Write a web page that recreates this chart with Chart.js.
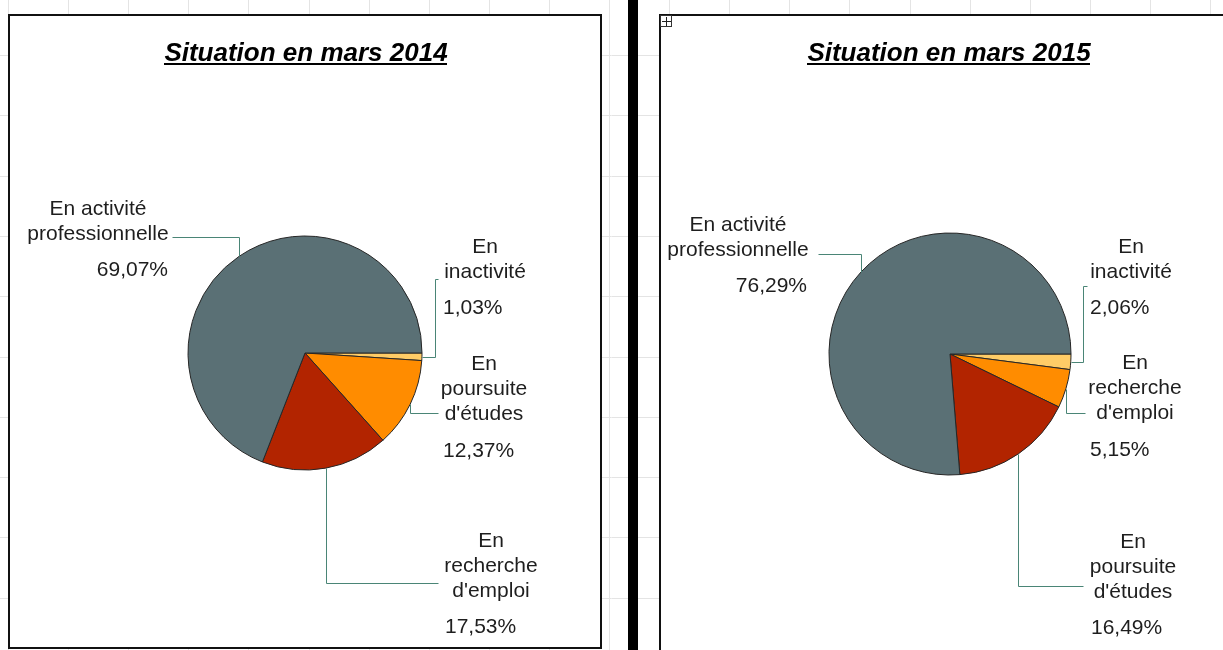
<!DOCTYPE html>
<html lang="fr">
<head>
<meta charset="utf-8">
<script src="https://cdn.jsdelivr.net/npm/chart.js@4.4.1/dist/chart.umd.min.js"></script>
<style>
  html, body { margin: 0; padding: 0; background: #fff; }
  body { width: 1223px; height: 650px; position: relative; overflow: hidden; }
  #grid { position: absolute; left: 0; top: 0; width: 1223px; height: 650px; }
  .box { position: absolute; background: #fff; box-sizing: border-box; border: 2px solid #111; }
  #box1 { left: 8px; top: 14px; width: 594px; height: 635px; }
  #box2 { left: 659px; top: 14px; width: 600px; height: 700px; }
  #bar { position: absolute; left: 628px; top: 0; width: 10px; height: 650px; background: #000; }
  #handle { position: absolute; left: 660px; top: 15px; width: 10px; height: 10px; border: 1px solid #333; background: #fff; }
  #handle:before { content: ""; position: absolute; left: 5px; top: 1px; width: 1px; height: 9px; background: #222; }
  #handle:after { content: ""; position: absolute; left: 1px; top: 5px; width: 9px; height: 1px; background: #222; }
  canvas { position: absolute; left: 0; top: 0; }
</style>
</head>
<body>
<canvas id="grid" width="1223" height="650"></canvas>
<div id="box1" class="box"></div>
<div id="bar"></div>
<div id="box2" class="box"></div>
<div id="handle"></div>
<canvas id="c2014" width="1223" height="650"></canvas>
<canvas id="c2015" width="1223" height="650"></canvas>
<script>
// ---------- DATA ----------
const title2014 = "Situation en mars 2014";
const categories2014 = ["En inactivité", "En poursuite d'études", "En recherche d'emploi", "En activité professionnelle"];
const values2014 = [1.03, 12.37, 17.53, 69.07];

const title2015 = "Situation en mars 2015";
const categories2015 = ["En inactivité", "En recherche d'emploi", "En poursuite d'études", "En activité professionnelle"];
const values2015 = [2.06, 5.15, 16.49, 76.29];

const sliceColors = ["#FFCC66", "#FF8C00", "#B22400", "#5A7075"];

// ---------- LAYOUT (positions / styles only) ----------
const FONT = '"Liberation Sans", Arial, sans-serif';
const LABEL_FONT = '21px ' + FONT;
const TITLE_FONT = 'italic bold 26px ' + FONT;
const TEXT_COLOR = '#1e1e1e';
const LEADER_COLOR = '#4a8576';

const layout2014 = {
  center: { x: 305, y: 353 }, radius: 117,
  title: { x: 306, y: 61 },
  labels: [
    { cx: 485, y0: 253, wrap: 100, valAlign: 'left', valX: 443, valGap: 36, route: [['h', 435], ['v', 279], ['h', 438]] },
    { cx: 484, y0: 370, wrap: 100, valAlign: 'left', valX: 443, valGap: 37, route: [['v', 413], ['h', 438]] },
    { cx: 491, y0: 547, wrap: 100, valAlign: 'left', valX: 445, valGap: 36, route: [['v', 583], ['h', 438]] },
    { cx: 98,  y0: 215, wrap: 150, valAlign: 'right', valX: 168, valGap: 36, route: [['v', 237], ['h', 172]] }
  ]
};
const layout2015 = {
  center: { x: 950, y: 354 }, radius: 121,
  title: { x: 949, y: 61 },
  labels: [
    { cx: 1131, y0: 253, wrap: 100, valAlign: 'left', valX: 1090, valGap: 36, route: [['h', 1083], ['v', 286], ['h', 1087]] },
    { cx: 1135, y0: 369, wrap: 100, valAlign: 'left', valX: 1090, valGap: 37, route: [['v', 413], ['h', 1085]] },
    { cx: 1133, y0: 548, wrap: 100, valAlign: 'left', valX: 1091, valGap: 36, route: [['v', 586], ['h', 1083]] },
    { cx: 738,  y0: 231, wrap: 150, valAlign: 'right', valX: 807, valGap: 36, route: [['v', 254], ['h', 818]] }
  ]
};

// ---------- background spreadsheet grid ----------
(function () {
  const g = document.getElementById('grid').getContext('2d');
  g.strokeStyle = '#e4e4e4';
  g.lineWidth = 1;
  for (let x = 8; x < 1223; x += 60.1) {
    g.beginPath(); g.moveTo(Math.round(x) + 0.5, 0); g.lineTo(Math.round(x) + 0.5, 650); g.stroke();
  }
  for (let y = 55; y < 650; y += 60.3) {
    g.beginPath(); g.moveTo(0, Math.round(y) + 0.5); g.lineTo(1223, Math.round(y) + 0.5); g.stroke();
  }
})();

function fmt(v) { return v.toFixed(2).replace('.', ',') + '%'; }

function wrapText(ctx, text, maxW) {
  const words = text.split(' ');
  const lines = [];
  let cur = '';
  for (const w of words) {
    const test = cur ? cur + ' ' + w : w;
    if (cur && ctx.measureText(test).width > maxW) { lines.push(cur); cur = w; }
    else cur = test;
  }
  if (cur) lines.push(cur);
  return lines;
}

const labelPlugin = {
  id: 'pieLabels',
  afterDraw(chart, args, opts) {
    const ctx = chart.ctx;
    const meta = chart.getDatasetMeta(0);
    const cats = chart.data.labels;
    const vals = chart.data.datasets[0].data;
    const L = opts.layout;
    ctx.save();
    // title
    ctx.font = TITLE_FONT;
    ctx.fillStyle = '#000';
    ctx.textAlign = 'center';
    ctx.textBaseline = 'alphabetic';
    ctx.fillText(opts.title, L.title.x, L.title.y);
    const tw = ctx.measureText(opts.title).width;
    ctx.fillRect(Math.round(L.title.x - tw / 2), L.title.y + 2, Math.round(tw), 2);
    // leaders + labels
    meta.data.forEach((arc, i) => {
      const p = arc.getProps(['x', 'y', 'startAngle', 'endAngle', 'outerRadius'], true);
      const mid = (p.startAngle + p.endAngle) / 2;
      let ax = p.x + Math.cos(mid) * p.outerRadius;
      let ay = p.y + Math.sin(mid) * p.outerRadius;
      const lab = L.labels[i];
      ctx.strokeStyle = LEADER_COLOR;
      ctx.lineWidth = 1;
      ctx.beginPath();
      let cx = Math.round(ax) + 0.5, cy = Math.round(ay) + 0.5;
      ctx.moveTo(cx, cy);
      for (const [dir, val] of lab.route) {
        if (dir === 'h') cx = val + 0.5; else cy = val + 0.5;
        ctx.lineTo(cx, cy);
      }
      ctx.stroke();
      ctx.font = LABEL_FONT;
      ctx.fillStyle = TEXT_COLOR;
      ctx.textAlign = 'center';
      const lines = wrapText(ctx, cats[i], lab.wrap);
      lines.forEach((ln, k) => ctx.fillText(ln, lab.cx, lab.y0 + k * 25));
      ctx.textAlign = lab.valAlign;
      ctx.fillText(fmt(vals[i]), lab.valX, lab.y0 + (lines.length - 1) * 25 + lab.valGap);
    });
    ctx.restore();
  }
};

function makePie(id, title, cats, vals, L) {
  const W = 1223, H = 650;
  const padL = Math.max(0, 2 * L.center.x - W);
  const padR = Math.max(0, W - 2 * L.center.x);
  const padT = Math.max(0, 2 * L.center.y - H);
  const padB = Math.max(0, H - 2 * L.center.y);
  return new Chart(document.getElementById(id), {
    type: 'pie',
    data: {
      labels: cats,
      datasets: [{
        data: vals,
        backgroundColor: sliceColors,
        borderColor: '#262626',
        borderWidth: 1,
        radius: L.radius
      }]
    },
    options: {
      responsive: false,
      animation: false,
      rotation: 90,
      layout: { padding: { left: padL, right: padR, top: padT, bottom: padB } },
      plugins: {
        legend: { display: false },
        tooltip: { enabled: false },
        pieLabels: { title: title, layout: L }
      }
    },
    plugins: [labelPlugin]
  });
}

makePie('c2014', title2014, categories2014, values2014, layout2014);
makePie('c2015', title2015, categories2015, values2015, layout2015);
</script>
</body>
</html>
